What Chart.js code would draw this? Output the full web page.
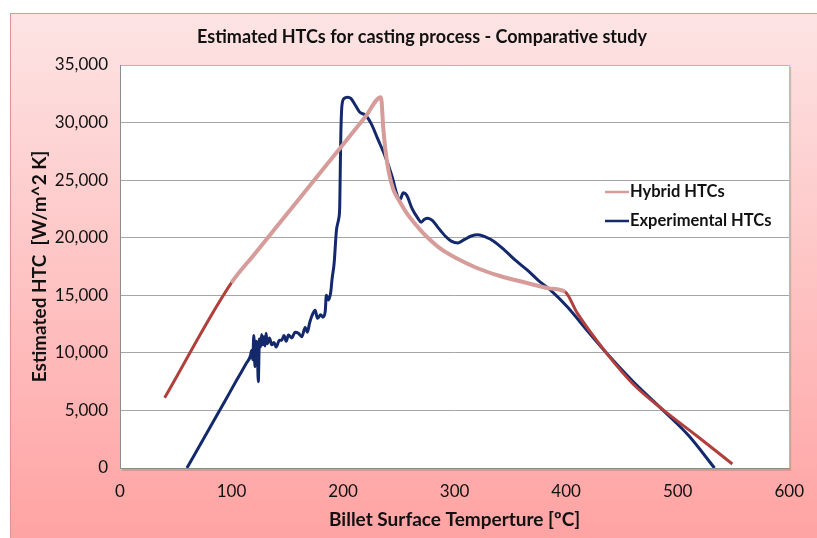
<!DOCTYPE html>
<html>
<head>
<meta charset="utf-8">
<script src="https://cdn.jsdelivr.net/npm/chart.js@4/dist/chart.umd.min.js"></script>
<style>
  html, body { margin: 0; padding: 0; background: #fff; }
  #wrap { width: 817px; height: 538px; }
</style>
</head>
<body>
<div id="wrap"><canvas id="htc-chart" width="817" height="538"></canvas></div>
<script>
const chartTitle = 'Estimated HTCs for casting process - Comparative study';
const xTitle = 'Billet Surface Temperture [ºC]';
const yTitle = 'Estimated HTC  [W/m^2 K]';
const seriesNames = ['Hybrid HTCs', 'Experimental HTCs'];

// hybrid model (dark red below 100 °C and above 400 °C)
const hybridTemp = [40, 100, 120, 140, 160, 180, 200, 220, 234, 236, 238, 241, 245, 251, 258, 270, 276, 288, 300, 320, 340, 365, 385, 399,
    410, 436, 460, 487, 517, 549];
const hybridHtc = [6100, 16100, 18500, 20900, 23300, 25700, 28100, 30500, 32200, 29600, 27600, 25700, 24200, 23100, 22000, 20600, 20000, 19000, 18300, 17370, 16700, 16070, 15600, 15300,
    13450, 10000, 7300, 5050, 2800, 350];

// measured
const expTemp = [60, 80, 94, 105, 113, 117, 118, 119, 120, 121, 122, 123, 124, 125, 126, 127, 128, 129, 130, 131, 132, 134, 136, 138, 140,
    143, 145, 147, 149, 151, 154, 157, 160, 163, 166, 168, 170, 172, 175, 177, 180, 182, 184, 185, 187, 189, 190, 192, 194, 196, 197,
    197.5, 198, 199, 201, 204, 207, 211, 215, 220, 225, 231, 238, 244, 249, 251, 254, 257, 262, 267, 270, 273, 276, 280, 285, 292, 297,
    303, 309, 315, 321, 328, 335, 345, 355, 365, 375, 386, 401, 420, 436, 460, 487, 510, 533];
const expHtc = [0, 3400, 5800, 7700, 9050, 9750, 10200, 9400, 11500, 8800, 11000, 10600, 7500, 11200, 10500, 11600, 10700, 11400, 10600, 11700, 10800, 11300, 10700, 10900, 10500,
    11100, 11100, 11500, 11000, 11550, 11300, 11800, 11700, 11400, 12200, 11800, 12600, 13200, 13700, 13000, 13300, 13100, 13600, 15000, 14600, 15300, 16300, 17800, 20600, 21600, 22700,
    26000, 29000, 31500, 32100, 32200, 32100, 31500, 30900, 30650, 29950, 28600, 27000, 25300, 23550, 23300, 23900, 23700, 22500, 21700, 21350, 21600, 21700, 21500, 20900, 20100, 19700,
    19550, 19850, 20150, 20250, 20050, 19700, 18900, 18000, 17200, 16300, 15450, 14000, 11800, 10000, 7500, 5000, 2800, 0];

const xTicks = [0, 100, 200, 300, 400, 500, 600];
const yTicks = [0, 5000, 10000, 15000, 20000, 25000, 30000, 35000];

const pink = '#d69c9a';
const darkRed = '#b0403c';
const navy = '#14296b';
const fontFamily = 'Lato, "Liberation Sans", sans-serif';

function toPoints(xs, ys) {
    return xs.map((x, i) => ({ x: x, y: ys[i] }));
}

const backdrop = {
    id: 'backdrop',
    beforeDraw(chart) {
        const ctx = chart.ctx;
        const a = chart.chartArea;
        ctx.save();
        const g = ctx.createLinearGradient(0, 13, 0, 538);
        g.addColorStop(0, '#fde4e4');
        g.addColorStop(1, '#ffa3a3');
        ctx.fillStyle = g;
        ctx.fillRect(10, 13, 807, 525);
        ctx.strokeStyle = '#e3928f';
        ctx.lineWidth = 1;
        ctx.strokeRect(10.5, 13.5, 820, 540);
        // plot area + soft shadow
        ctx.fillStyle = 'rgba(120,80,80,0.25)';
        ctx.fillRect(a.left + 2, a.top + 2, a.width, a.height + 1);
        ctx.fillStyle = '#fff';
        ctx.fillRect(a.left, a.top, a.width, a.height);
        // title
        ctx.fillStyle = '#111';
        ctx.font = 'bold 18px ' + fontFamily;
        ctx.textAlign = 'center';
        ctx.textBaseline = 'middle';
        ctx.fillText(chartTitle, 422, 37);
        ctx.restore();
    },
    beforeDatasetsDraw(chart) {
        const ctx = chart.ctx;
        const a = chart.chartArea;
        ctx.save();
        ctx.lineWidth = 1;
        ctx.strokeStyle = '#a9c97a';
        ctx.beginPath();
        ctx.moveTo(a.left, a.top + 0.5);
        ctx.lineTo(a.right + 0.5, a.top + 0.5);
        ctx.lineTo(a.right + 0.5, a.bottom);
        ctx.stroke();
        ctx.strokeStyle = '#8c8c8c';
        ctx.beginPath();
        ctx.moveTo(a.left + 0.5, a.top);
        ctx.lineTo(a.left + 0.5, a.bottom + 0.5);
        ctx.lineTo(a.right + 0.5, a.bottom + 0.5);
        ctx.stroke();
        ctx.restore();
    },
    afterDraw(chart) {
        const ctx = chart.ctx;
        const rows = [[pink, 192], [navy, 221]];
        ctx.save();
        ctx.font = 'bold 16.5px ' + fontFamily;
        ctx.textBaseline = 'middle';
        ctx.textAlign = 'left';
        chart.data.datasets.forEach((ds, i) => {
            const [col, y] = rows[i];
            ctx.strokeStyle = col;
            ctx.lineWidth = 2.5;
            ctx.beginPath();
            ctx.moveTo(605, y);
            ctx.lineTo(629, y);
            ctx.stroke();
            ctx.fillStyle = '#111';
            ctx.fillText(ds.label, 630, y);
        });
        ctx.restore();
    }
};

const ctx = document.getElementById('htc-chart').getContext('2d');
const chart = new Chart(ctx, {
    type: 'scatter',
    data: {
        datasets: [{
            label: seriesNames[0],
            data: toPoints(hybridTemp, hybridHtc),
            showLine: true,
            borderColor: pink,
            borderWidth: 4,
            pointRadius: 0,
            cubicInterpolationMode: 'monotone',
            segment: {
                borderColor: c => (c.p0.parsed.x < 100 || c.p0.parsed.x >= 399) ? darkRed : pink,
                borderWidth: c => (c.p0.parsed.x < 100 || c.p0.parsed.x >= 399) ? 3 : 4
            }
        }, {
            label: seriesNames[1],
            data: toPoints(expTemp, expHtc),
            showLine: true,
            borderColor: navy,
            borderWidth: 3,
            pointRadius: 0,
            cubicInterpolationMode: 'monotone'
        }]
    },
    options: {
        responsive: false,
        animation: false,
        layout: { padding: { left: 10, right: 23, top: 65, bottom: 0 } },
        plugins: {
            legend: { display: false },
            title: { display: false },
            tooltip: { enabled: false }
        },
        scales: {
            x: {
                type: 'linear',
                min: 0,
                max: 600,
                afterBuildTicks: s => { s.ticks = xTicks.map(v => ({ value: v })); },
                afterFit: s => { s.height = 70; },
                grid: { display: false, drawTicks: false },
                border: { display: false },
                ticks: { color: '#111', padding: 13, font: { family: fontFamily, size: 17 } },
                title: {
                    display: true,
                    text: xTitle,
                    color: '#111',
                    padding: { top: 0, bottom: 7 },
                    font: { family: fontFamily, size: 19, weight: 'bold' }
                }
            },
            y: {
                min: 0,
                max: 35000,
                afterBuildTicks: s => { s.ticks = yTicks.map(v => ({ value: v })); },
                afterFit: s => { s.width = 110; },
                grid: { color: '#a6a6a6', drawTicks: false },
                border: { display: false },
                ticks: {
                    color: '#111',
                    padding: 12,
                    font: { family: fontFamily, size: 17 },
                    callback: v => v.toLocaleString('en-US')
                },
                title: {
                    display: true,
                    text: yTitle,
                    color: '#111',
                    padding: { top: 18, bottom: 0 },
                    font: { family: fontFamily, size: 19, weight: 'bold' }
                }
            }
        }
    },
    plugins: [backdrop]
});
</script>
</body>
</html>
